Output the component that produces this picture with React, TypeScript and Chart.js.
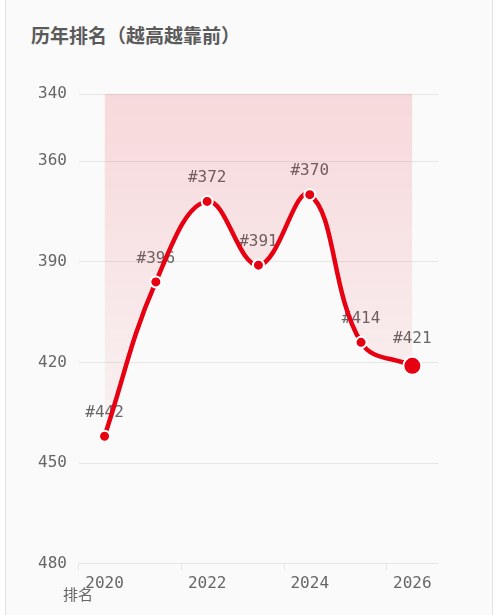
import React, { useEffect, useRef } from 'react';
import { Chart, registerables } from 'chart.js';

Chart.register(...registerables);

const years = ['2020', '2021', '2022', '2023', '2024', '2025', '2026'];
const ranks = [442, 396, 372, 391, 370, 414, 421];
const pointRadii = [5.5, 5.5, 5.5, 5.5, 5.5, 5.5, 9];
const yMin = 340;
const yMax = 480;
const yStep = 30;
const titleText = '历年排名（越高越靠前）';
const seriesLabel = '排名';

const RED = '#e60012';
const TEXT = '#666666';
const GRID = '#e6e6e6';
const MONO = '"DejaVu Sans Mono", monospace';

export default function App() {
  const ref = useRef<HTMLCanvasElement>(null);

  useEffect(() => {
    const labelPlugin = {
      id: 'rankLabels',
      beforeDatasetsDraw(chart: any) {
        const ctx = chart.ctx;
        const meta = chart.getDatasetMeta(0);
        ctx.save();
        ctx.font = '16px ' + MONO;
        ctx.fillStyle = TEXT;
        ctx.textAlign = 'center';
        ctx.textBaseline = 'middle';
        meta.data.forEach((pt: any, i: number) => {
          ctx.fillText('#' + ranks[i], pt.x, pt.y - pointRadii[i] - 18);
        });
        ctx.restore();
      },
    };

    const chart = new Chart(ref.current as HTMLCanvasElement, {
      type: 'line',
      data: {
        labels: years,
        datasets: [
          {
            label: seriesLabel,
            data: ranks,
            borderColor: RED,
            borderWidth: 4.5,
            tension: 0.4,
            fill: 'end',
            backgroundColor: (c: any) => {
              const area = c.chart.chartArea;
              if (!area) return 'rgba(230,0,18,0.1)';
              const g = c.chart.ctx.createLinearGradient(0, area.top, 0, area.bottom);
              g.addColorStop(0, 'rgba(230,0,18,0.13)');
              g.addColorStop(1, 'rgba(230,0,18,0)');
              return g;
            },
            pointRadius: pointRadii,
            pointHoverRadius: pointRadii,
            pointBackgroundColor: RED,
            pointBorderColor: '#ffffff',
            pointBorderWidth: 2,
          },
        ],
      },
      options: {
        responsive: false,
        animation: false,
        layout: { padding: { left: 26, right: 62, top: 94, bottom: 18 } },
        plugins: {
          legend: { display: false },
          tooltip: { enabled: false },
        },
        scales: {
          x: {
            offset: true,
            grid: {
              offset: true,
              drawOnChartArea: false,
              drawTicks: true,
              tickLength: 6,
              color: (c: any) =>
                c.index % 2 === 0 || c.index >= years.length ? GRID : 'rgba(0,0,0,0)',
            },
            border: { color: GRID },
            ticks: {
              autoSkip: false,
              maxRotation: 0,
              padding: 4,
              color: TEXT,
              font: { family: MONO, size: 16 },
              callback: (_v: any, i: number) => (i % 2 === 0 ? years[i] : ''),
            },
          },
          y: {
            reverse: true,
            min: yMin,
            max: yMax,
            grid: { drawTicks: false, color: GRID },
            border: { display: false },
            ticks: {
              stepSize: yStep,
              padding: 12,
              color: TEXT,
              font: { family: MONO, size: 16 },
            },
          },
        },
      },
      plugins: [labelPlugin],
    });
    return () => chart.destroy();
  }, []);

  return (
    <div style={{ position: 'fixed', left: 0, top: 0, width: 500, height: 615, overflow: 'hidden', background: '#ffffff' }}>
      <div
        style={{
          position: 'absolute',
          left: 5,
          top: -20,
          width: 486,
          height: 700,
          border: '1px solid #e2e2e2',
          background: '#fafafa',
        }}
      />
      <div
        style={{
          position: 'absolute',
          left: 31,
          top: 25,
          fontFamily: '"Noto Sans CJK SC", sans-serif',
          fontWeight: 700,
          fontSize: 19,
          lineHeight: '19px',
          color: '#5a5a5a',
          whiteSpace: 'nowrap',
        }}
      >
        {titleText}
      </div>
      <canvas ref={ref} width={500} height={615} style={{ position: 'absolute', left: 0, top: 0 }} />
      <span
        style={{
          position: 'absolute',
          left: 63,
          top: 586,
          fontFamily: '"Noto Sans CJK SC", sans-serif',
          fontSize: 15,
          lineHeight: '15px',
          color: TEXT,
          whiteSpace: 'nowrap',
        }}
      >
        {seriesLabel}
      </span>
    </div>
  );
}
